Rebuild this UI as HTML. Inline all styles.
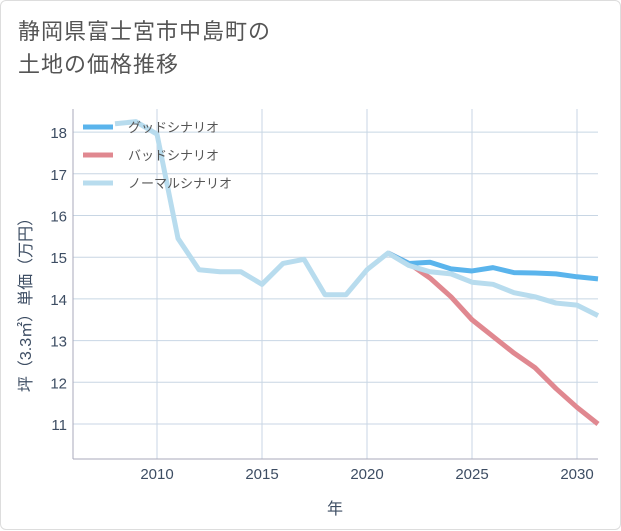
<!DOCTYPE html>
<html><head><meta charset="utf-8">
<style>
body{margin:0;background:#fff;}
#c{position:relative;width:621px;height:530px;background:#fff;border:1px solid #ddd;border-radius:6px;box-sizing:border-box;font-family:"Liberation Sans","Noto Sans CJK JP",sans-serif;}
#title{position:absolute;left:17px;top:14px;font-size:22px;line-height:33px;color:#555;letter-spacing:1px;}
</style></head><body>
<div id="c">
<div id="title">静岡県富士宮市中島町の<br>土地の価格推移</div>
<svg id="s" width="621" height="530" style="position:absolute;left:0;top:0"></svg>
</div>
<script>
const years=[2008,2009,2010,2011,2012,2013,2014,2015,2016,2017,2018,2019,2020,2021,2022,2023,2024,2025,2026,2027,2028,2029,2030,2031];
const normal=[18.2,18.25,17.95,15.45,14.7,14.65,14.65,14.35,14.85,14.95,14.1,14.1,14.7,15.1,14.8,14.65,14.6,14.4,14.35,14.15,14.05,13.9,13.85,13.6];
const goodYears=[2021,2022,2023,2024,2025,2026,2027,2028,2029,2030,2031];
const good=[15.1,14.85,14.88,14.72,14.67,14.75,14.63,14.62,14.6,14.53,14.48];
const bad=[15.1,14.85,14.5,14.05,13.5,13.1,12.7,12.35,11.85,11.4,11.0];
const xTicks=[2010,2015,2020,2025,2030];
const yTicks=[11,12,13,14,15,16,17,18];
const L=72,R=597,T=108,B=458;
const x=v=>L+(v-2006)*(R-L)/25;
const y=v=>423-(v-11)*41.7;
const s=document.getElementById('s');const NS='http://www.w3.org/2000/svg';
function mk(t,a,p){const e=document.createElementNS(NS,t);for(const k in a)e.setAttribute(k,a[k]);(p||s).appendChild(e);return e;}
xTicks.forEach(v=>{const l=mk('line',{x1:x(v),x2:x(v),y1:T,y2:B,stroke:'#c8d6e4','stroke-width':1});

const t=mk('text',{x:x(v),y:B+20,'text-anchor':'middle','font-size':15,fill:'#3d4d63'});t.textContent=v;
});
yTicks.forEach(v=>{const l=mk('line',{x1:L,x2:R,y1:y(v),y2:y(v),stroke:'#c8d6e4','stroke-width':1});

const t=mk('text',{x:L-6,y:y(v)+6,'text-anchor':'end','font-size':15,fill:'#3d4d63'});t.textContent=v;
});
const ax=mk('line',{x1:L,x2:L,y1:T,y2:B,stroke:'#aab','stroke-width':1});
const ax2=mk('line',{x1:L,x2:R,y1:B,y2:B,stroke:'#aab','stroke-width':1});
function line(xs,vs,c,n){const p=mk('polyline',{points:xs.map((v,i)=>x(v)+','+y(vs[i])).join(' '),fill:'none',stroke:c,'stroke-width':5,'stroke-linejoin':'round'});
}
line(goodYears,bad,'#e08890','bad-scenario-line');
line(goodYears,good,'#5ab4ec','good-scenario-line');
line(years,normal,'#b8dcee','normal-scenario-line');
const leg=[['グッドシナリオ','#5ab4ec'],['バッドシナリオ','#e08890'],['ノーマルシナリオ','#b8dcee']];
leg.forEach((d,i)=>{const g=mk('g',{});
mk('line',{x1:82,x2:112,y1:126+i*28,y2:126+i*28,stroke:d[1],'stroke-width':5},g);
const t=mk('text',{x:127,y:131+i*28,'font-size':13,fill:'#555'},g);t.textContent=d[0];});
const yt=mk('text',{transform:'translate(30,300) rotate(-90)','text-anchor':'middle','font-size':16,fill:'#3d4d63'});yt.textContent='坪（3.3㎡）単価（万円）';

const xt=mk('text',{x:334,y:513,'text-anchor':'middle','font-size':16,fill:'#3d4d63'});xt.textContent='年';

</script>
</body></html>
